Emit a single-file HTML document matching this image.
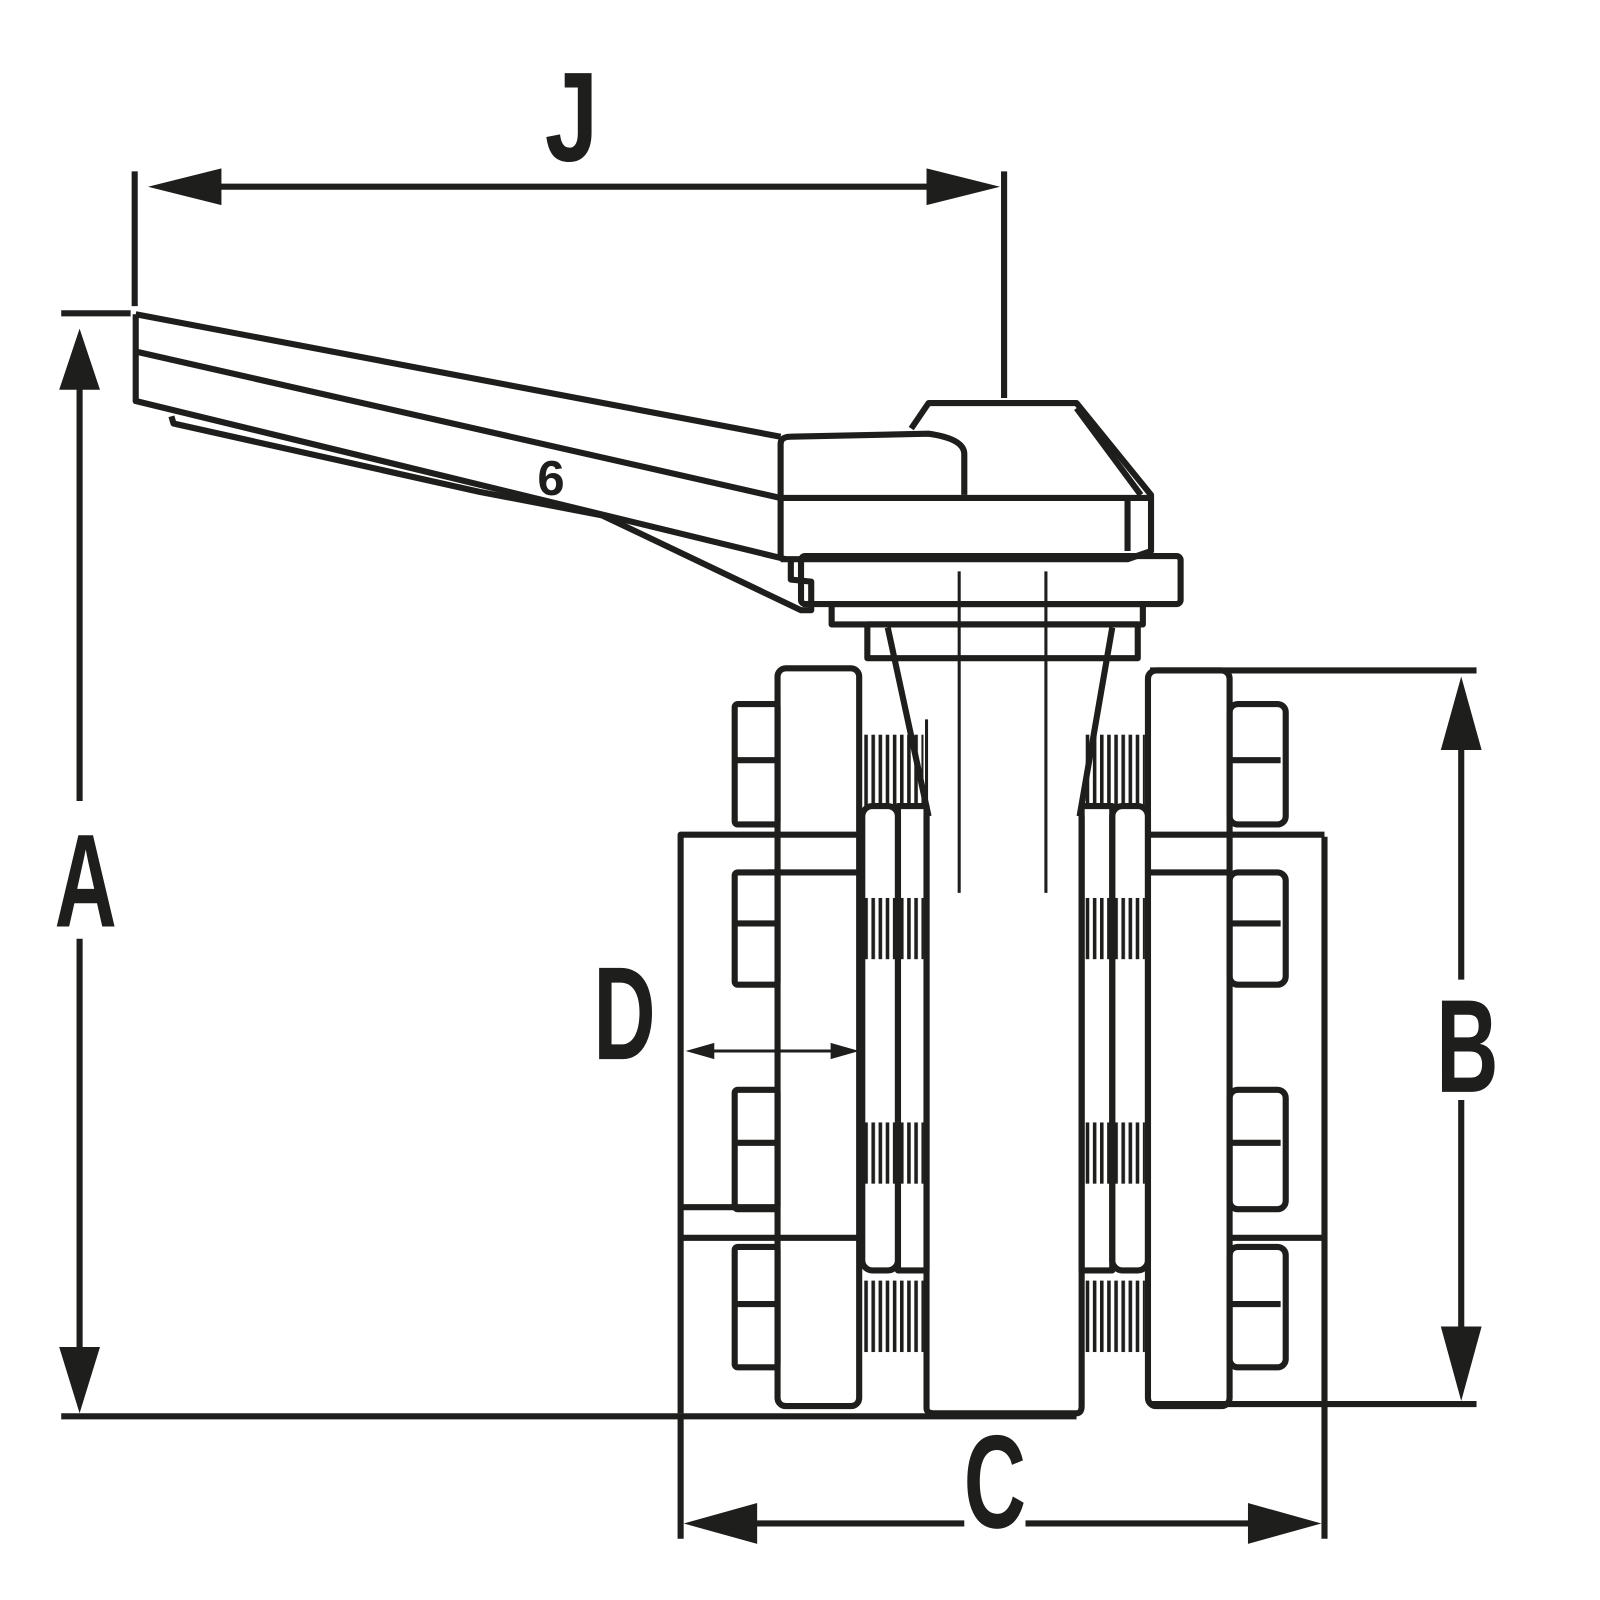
<!DOCTYPE html>
<html><head><meta charset="utf-8"><style>
html,body{margin:0;padding:0;background:#fff}
svg{display:block}
.l{font-family:"Liberation Sans",sans-serif;font-weight:bold;fill:#1e1e1c}
</style></head><body>
<svg width="1600" height="1600" viewBox="0 0 1568 1568" xmlns="http://www.w3.org/2000/svg">
<defs>
<pattern id="th" width="7" height="10" patternUnits="userSpaceOnUse"><rect x="0" y="0" width="3.5" height="10" fill="#1e1e1c"/></pattern>
</defs>
<g stroke="#1e1e1c" stroke-width="6" fill="none" stroke-linejoin="round">
<line x1="132" y1="168" x2="132" y2="300"/>
<line x1="984" y1="168" x2="984" y2="390"/>
<line x1="200" y1="183" x2="920" y2="183"/>
<line x1="60" y1="307" x2="128" y2="307"/>
<line x1="78" y1="370" x2="78" y2="785"/>
<line x1="78" y1="920" x2="78" y2="1340"/>
<line x1="60" y1="1388" x2="1055" y2="1388"/>
<line x1="1127" y1="657" x2="1447" y2="657"/>
<line x1="1127" y1="1376" x2="1447" y2="1376"/>
<line x1="1432" y1="720" x2="1432" y2="960"/>
<line x1="1432" y1="1078" x2="1432" y2="1320"/>
<line x1="667" y1="1385" x2="667" y2="1508"/>
<line x1="1298" y1="820" x2="1298" y2="1508"/>
<line x1="730" y1="1493" x2="945" y2="1493"/>
<line x1="1005" y1="1493" x2="1235" y2="1493"/>
<line x1="690" y1="1030" x2="825" y2="1030" stroke-width="3"/>
<path d="M133 308 L765 428 M135 345 L765 488 M133 308 L133 393 L770 548"/>
<path d="M168 408 L170 415 L470 482 L590 505"/>
<path d="M590 505 L785 598 L795 598 L795 570 L775 568 L775 548"/>
<path d="M765 548 L765 435 Q765 428 775 428 L910 425 Q945 430 945 445 L945 485"/>
<path d="M893 420 L910 395 L1055 395 L1128 485 L1128 540 L1105 548 L765 548"/>
<line x1="765" y1="488" x2="1128" y2="488"/>
<path d="M1105 488 L1105 540 M1055 400 L1118 485"/>
<rect x="785" y="545" width="372" height="47" rx="4"/>
<rect x="815" y="592" width="305" height="20"/>
<rect x="850" y="612" width="265" height="33"/>
<path d="M870 615 L910 800 M1090 615 L1058 800"/>
<line x1="940" y1="560" x2="940" y2="875" stroke-width="3"/>
<line x1="1025" y1="560" x2="1025" y2="875" stroke-width="3"/>
<line x1="908" y1="705" x2="908" y2="800" stroke-width="3"/>
<path d="M908 800 L908 1380 Q908 1385 915 1385 L1055 1385 Q1060 1385 1060 1378 L1060 800"/>
<rect x="762" y="655" width="80" height="723" rx="8"/>
<rect x="1125" y="657" width="80" height="721" rx="8"/>
<path d="M842 818 L667 818 L667 1385 M667 1213 L842 1213 M667 1183 L762 1183"/>
<path d="M1125 818 L1298 818 M1205 1213 L1298 1213"/>
<path d="M752 855 L842 855 M1125 855 L1205 855"/>
<g>
<rect x="720" y="690" width="42" height="118" rx="3"/><line x1="720" y1="745" x2="762" y2="745"/>
<rect x="720" y="855" width="42" height="110" rx="3"/><line x1="720" y1="905" x2="762" y2="905"/>
<rect x="720" y="1068" width="42" height="117" rx="3"/><line x1="720" y1="1120" x2="762" y2="1120"/>
<rect x="720" y="1222" width="42" height="118" rx="3"/><line x1="720" y1="1278" x2="762" y2="1278"/>
<rect x="1205" y="690" width="55" height="118" rx="8"/><line x1="1205" y1="745" x2="1255" y2="745"/>
<rect x="1205" y="855" width="55" height="110" rx="8"/><line x1="1205" y1="905" x2="1255" y2="905"/>
<rect x="1205" y="1068" width="55" height="117" rx="8"/><line x1="1205" y1="1120" x2="1255" y2="1120"/>
<rect x="1205" y="1222" width="55" height="118" rx="8"/><line x1="1205" y1="1278" x2="1255" y2="1278"/>
</g>
<rect x="845" y="790" width="35" height="455" rx="10"/>
<rect x="880" y="790" width="28" height="455"/>
<rect x="1090" y="790" width="35" height="455" rx="10"/>
<rect x="1060" y="790" width="30" height="455"/>
</g>
<g fill="url(#th)">
<rect x="845" y="720" width="60" height="70"/>
<rect x="845" y="880" width="60" height="60"/>
<rect x="845" y="1100" width="60" height="60"/>
<rect x="845" y="1255" width="60" height="70"/>
<rect x="1062" y="720" width="60" height="70"/>
<rect x="1062" y="880" width="60" height="60"/>
<rect x="1062" y="1100" width="60" height="60"/>
<rect x="1062" y="1255" width="60" height="70"/>
</g>
<g fill="#1e1e1c">
<polygon points="145,183 217,165 217,201"/>
<polygon points="980,183 908,165 908,201"/>
<polygon points="78,322 58,382 98,382"/>
<polygon points="78,1385 58,1320 98,1320"/>
<polygon points="1432,663 1412,735 1452,735"/>
<polygon points="1432,1373 1412,1300 1452,1300"/>
<polygon points="670,1493 742,1473 742,1513"/>
<polygon points="1295,1493 1223,1473 1223,1513"/>
<polygon points="672,1030 700,1022 700,1038"/>
<polygon points="842,1030 814,1022 814,1038"/>
</g>
<text class="l" x="560" y="158" font-size="125" text-anchor="middle" transform="translate(560 0) scale(0.75 1) translate(-560 0)">J</text>
<text class="l" x="84" y="908" font-size="130" text-anchor="middle" transform="translate(84 0) scale(0.65 1) translate(-84 0)">A</text>
<text class="l" x="1438" y="1070" font-size="130" text-anchor="middle" transform="translate(1438 0) scale(0.65 1) translate(-1438 0)">B</text>
<text class="l" x="975" y="1497" font-size="130" text-anchor="middle" transform="translate(975 0) scale(0.65 1) translate(-975 0)">C</text>
<text class="l" x="612" y="1038" font-size="130" text-anchor="middle" transform="translate(612 0) scale(0.65 1) translate(-612 0)">D</text>
<text class="l" x="540" y="485" font-size="48" text-anchor="middle">6</text>
</svg>
</body></html>
